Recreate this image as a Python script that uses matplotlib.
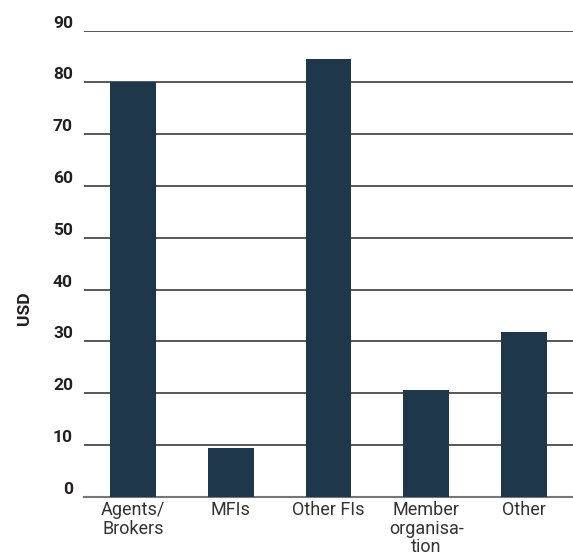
import matplotlib
matplotlib.use("Agg")
import matplotlib.pyplot as plt

categories = ["Agents/\nBrokers", "MFIs", "Other FIs", "Member\norganisa-\ntion", "Other"]
values = [80.0, 9.4, 84.6, 20.6, 31.8]
yticks = [0, 10, 20, 30, 40, 50, 60, 70, 80, 90]

plt.rcParams['font.family'] = ['Roboto', 'DejaVu Sans']

fig = plt.figure(figsize=(5.73, 5.58), dpi=100)
ax = fig.add_axes([84/573, 1 - 496.7/558, 1 - 84/573, (496.7 - 30.7)/558])

x = list(range(len(categories)))
ax.bar(x, values, width=0.47, color="#1e374a", zorder=3)

ax.set_xlim(-0.5, 4.5)
ax.set_ylim(0, 90)
ax.set_yticks(yticks)
ax.set_yticklabels([str(t) for t in yticks], fontsize=12.5, fontweight='bold', color='#231f20', va='bottom')
ax.yaxis.grid(True, color='#4a4a4a', linewidth=1.3, zorder=1)
ax.set_axisbelow(True)
ax.tick_params(axis='y', length=0, pad=8)
ax.tick_params(axis='x', length=0, pad=3)
ax.set_xticks(x)
ax.set_xticklabels(categories, fontsize=13, color='#333333', linespacing=1.05)

for s in ['top', 'right', 'left']:
    ax.spines[s].set_visible(False)
ax.spines['bottom'].set_color('#777777')
ax.spines['bottom'].set_linewidth(1.5)

fig.text(24/573, 1 - 308/558, "USD", rotation=90, ha='center', va='center',
         fontsize=12.5, fontweight='bold', color='#231f20')

fig.savefig("out.png", dpi=100)
